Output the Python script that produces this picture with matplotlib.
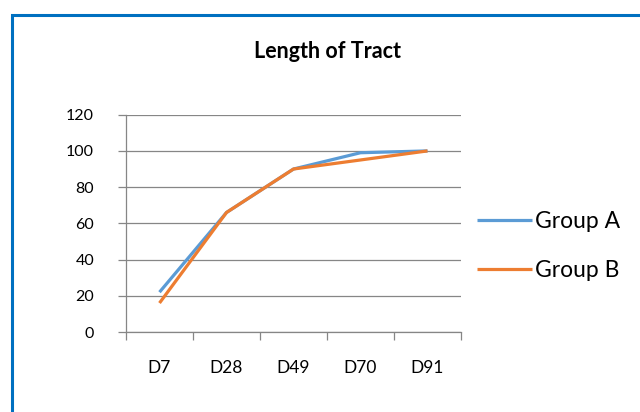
import matplotlib
matplotlib.use("Agg")
import matplotlib.pyplot as plt
from matplotlib.patches import Rectangle
import numpy as np

categories = ["D7", "D28", "D49", "D70", "D91"]
group_a = [22, 66, 90, 99, 100]
group_b = [16, 66, 90, 95, 100]
y_ticks = [0, 20, 40, 60, 80, 100, 120]

plt.rcParams["font.family"] = ["Lato", "DejaVu Sans"]

fig = plt.figure(figsize=(6.4, 4.12), dpi=100)
ax = fig.add_axes([126 / 640, 1 - 332 / 412, (461 - 126) / 640, (332 - 114.7) / 412])

x = np.arange(len(categories))
grid_c = "#868686"
ax.plot(x, group_a, color="#5B9BD5", lw=2.3, label="Group A", solid_capstyle="butt")
ax.plot(x, group_b, color="#ED7D31", lw=2.3, label="Group B", solid_capstyle="butt")

ax.set_xlim(-0.5, len(categories) - 0.5)
ax.set_ylim(0, 120)
ax.set_yticks(y_ticks)
ax.set_yticklabels([str(v) for v in y_ticks], fontsize=11.5)
ax.yaxis.grid(True, color=grid_c, lw=0.9)
ax.set_axisbelow(True)

# category boundaries carry the tick marks, centres carry the labels
ax.set_xticks(np.arange(-0.5, len(categories), 1.0))
ax.set_xticklabels([])
ax.set_xticks(x, minor=True)
ax.set_xticklabels(categories, minor=True, fontsize=12.5)
ax.tick_params(axis="x", which="major", length=6, color=grid_c, width=0.9, direction="out")
ax.tick_params(axis="x", which="minor", length=0, pad=20)
ax.tick_params(axis="y", length=6, color=grid_c, width=0.9, pad=17)

for s in ["top", "right"]:
    ax.spines[s].set_visible(False)
for s in ["left", "bottom"]:
    ax.spines[s].set_color(grid_c)
    ax.spines[s].set_linewidth(0.9)

fig.text(328 / 640, 1 - 52 / 412, "Length of Tract",
         fontsize=15.5, fontweight="bold", ha="center", va="center")

leg = fig.legend(loc="center left", bbox_to_anchor=(477 / 640, 1 - 246 / 412),
                 frameon=False, fontsize=16.5, handlelength=2.4, handletextpad=0.15,
                 labelspacing=1.2, borderaxespad=0, borderpad=0)
for line in leg.get_lines():
    line.set_linewidth(2.3)

fig.patches.append(Rectangle((12 / 640, -0.1), 1.2, 1 - 15 / 412 + 0.1,
                             transform=fig.transFigure, fill=False,
                             edgecolor="#0070C0", lw=2.2, clip_on=False))

fig.savefig("out.png", dpi=100)
